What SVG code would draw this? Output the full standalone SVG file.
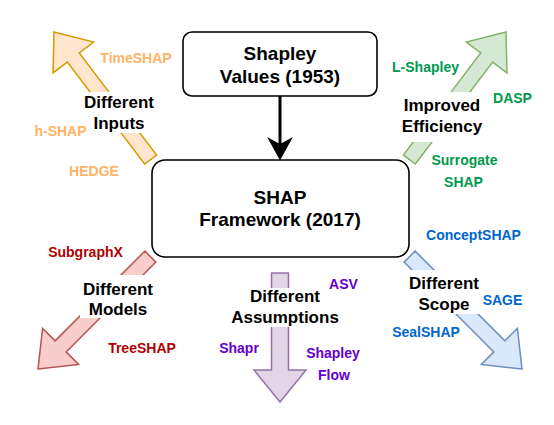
<svg xmlns="http://www.w3.org/2000/svg" width="554" height="425" viewBox="0 0 554 425">
<defs>
<style>
.box{fill:#fff;stroke:#000;stroke-width:1.6}
.bt{font-family:"Liberation Sans",Arial,sans-serif;font-weight:bold;font-size:19px;fill:#000;text-anchor:middle}
.ct{font-family:"Liberation Sans",Arial,sans-serif;font-weight:bold;font-size:17px;fill:#000;text-anchor:middle}
.lt{font-family:"Liberation Sans",Arial,sans-serif;font-weight:bold;font-size:14px;text-anchor:middle}
.bg{fill:#fff}
.arr{stroke-width:1.5;stroke-linejoin:miter}
</style>
<marker id="ah" markerWidth="10" markerHeight="10" viewBox="0 0 10 10" refX="9" refY="5" orient="auto" markerUnits="userSpaceOnUse">
</marker>
</defs>
<rect width="554" height="425" fill="#fff"/>
<g id="connectors">
<line x1="280" y1="96" x2="280" y2="148" stroke="#000" stroke-width="3"/>
<polygon points="280,159 269,139 280,145 291,139" fill="#000" stroke="#000" stroke-width="1.5" stroke-linejoin="miter"/>
</g>
<g id="inputs">
<polygon class="arr" points="54,32 93.65,42.1 79.3,52.97 156.6,154.99 144.66,164.05 67.35,62.03 53,72.9" fill="#ffe6cc" stroke="#d79b00"/>
<rect class="bg" x="82" y="92" width="74" height="41"/>
<text class="ct" x="119" y="108">Different</text>
<text class="ct" x="119" y="129">Inputs</text>
<text class="lt" x="136" y="63" fill="#ffb366">TimeSHAP</text>
<text class="lt" x="60.5" y="136" fill="#ffb366">h-SHAP</text>
<text class="lt" x="94" y="176" fill="#ffb366">HEDGE</text>
</g>
<g id="efficiency">
<polygon class="arr" points="506,32 466.35,42.1 480.7,52.97 403.4,154.99 415.34,164.05 492.65,62.03 507,72.9" fill="#d5e8d4" stroke="#82b366"/>
<rect class="bg" x="400" y="92" width="86" height="50"/>
<text class="ct" x="442" y="111">Improved</text>
<text class="ct" x="442" y="132">Efficiency</text>
<text class="lt" x="425.5" y="72" fill="#00994d">L-Shapley</text>
<text class="lt" x="512.5" y="103" fill="#00994d">DASP</text>
<text class="lt" x="464.5" y="165" fill="#00994d">Surrogate</text>
<text class="lt" x="463.5" y="187" fill="#00994d">SHAP</text>
</g>
<g id="models">
<polygon class="arr" points="38,369 78.65,364.41 66.13,351.89 155.92,262.1 144.9,251.08 55.11,340.87 42.59,328.35" fill="#f8cecc" stroke="#b85450"/>
<rect class="bg" x="80" y="275" width="76" height="43"/>
<text class="ct" x="118" y="295">Different</text>
<text class="ct" x="118" y="315">Models</text>
<text class="lt" x="85.5" y="257" fill="#b20000">SubgraphX</text>
<text class="lt" x="142" y="353" fill="#b20000">TreeSHAP</text>
</g>
<g id="scope">
<polygon class="arr" points="522,369 481.35,364.41 493.87,351.89 404.08,262.1 415.1,251.08 504.89,340.87 517.41,328.35" fill="#dae8fc" stroke="#6c8ebf"/>
<rect class="bg" x="406" y="270" width="76" height="44"/>
<text class="ct" x="444" y="289">Different</text>
<text class="ct" x="444" y="310">Scope</text>
<text class="lt" x="473.5" y="240" fill="#0066cc">ConceptSHAP</text>
<text class="lt" x="502.5" y="305" fill="#0066cc">SAGE</text>
<text class="lt" x="426" y="337" fill="#0066cc">SealSHAP</text>
</g>
<g id="assumptions">
<polygon class="arr" points="271.5,273 288.5,273 288.5,370 306,370 280,402 254,370 271.5,370" fill="#e1d5e7" stroke="#9673a6"/>
<rect class="bg" x="228" y="288" width="114" height="39"/>
<text class="ct" x="285" y="302">Different</text>
<text class="ct" x="285" y="323">Assumptions</text>
<text class="lt" x="343.5" y="289" fill="#6600cc">ASV</text>
<text class="lt" x="239" y="353" fill="#6600cc">Shapr</text>
<text class="lt" x="333" y="358" fill="#6600cc">Shapley</text>
<text class="lt" x="334" y="380" fill="#6600cc">Flow</text>
</g>
<g id="shapley">
<rect class="box" x="183" y="32" width="194" height="64" rx="9"/>
<text class="bt" x="280" y="60">Shapley</text>
<text class="bt" x="280" y="83">Values (1953)</text>
</g>
<g id="shap">
<rect class="box" x="152" y="160" width="257" height="97" rx="13"/>
<text class="bt" x="280" y="204">SHAP</text>
<text class="bt" x="280" y="226">Framework (2017)</text>
</g>
</svg>
